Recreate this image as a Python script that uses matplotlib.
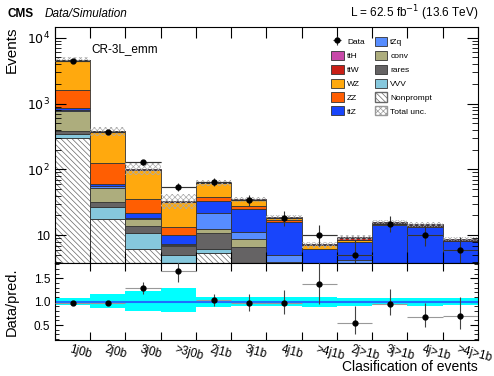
import numpy as np
import matplotlib.pyplot as plt
from matplotlib.patches import Patch
from matplotlib.ticker import FixedLocator, MultipleLocator, NullFormatter

plt.rcParams['font.family'] = ['Liberation Sans', 'DejaVu Sans']
plt.rcParams['hatch.linewidth'] = 0.5

# ------------------------------------------------------------
# Data
# ------------------------------------------------------------

bin_labels = ["1j0b", "2j0b", "3j0b", ">3j0b", "2j1b", "3j1b", "4j1b",
              ">4j1b", "2j>1b", "3j>1b", "4j>1b", ">4j>1b"]

# stacked backgrounds, bottom to top
nonprompt = [295, 17.5, 6.2, 1.5, 5.3, 1.0, 0.5, 0.5, 1.0, 0.5, 0.5, 0.4]
vvv       = [44, 9.0, 4.5, 3.5, 1.0, 0.5, 0.3, 0.2, 0.3, 0.2, 0.2, 0.1]
rares     = [50, 5.1, 3.0, 1.8, 4.4, 5.1, 1.0, 0.5, 1.0, 0.8, 0.8, 0.8]
conv      = [370, 21.4, 4.0, 0.4, 1.6, 2.1, 2.2, 0.3, 0.5, 0.5, 0.5, 0.3]
tzq       = [40, 3.0, 0.5, 0.3, 9.2, 2.7, 1.0, 0.3, 1.4, 1.0, 1.0, 0.9]
ttz       = [70, 5.0, 3.8, 2.5, 11.2, 13.4, 11.0, 4.3, 3.6, 11.3, 10.6, 5.6]
zz        = [760, 62, 14, 3.2, 5.0, 2.8, 0.9, 0.2, 0.2, 0.1, 0.1, 0.05]
wz        = [2970, 252, 63, 19, 24, 6.4, 1.3, 0.8, 0.5, 0.3, 0.3, 0.15]
ttw       = [5, 1.5, 0.7, 0.4, 1.0, 0.8, 0.4, 0.15, 0.6, 0.7, 0.5, 0.25]
tth       = [2, 0.5, 0.3, 0.1, 0.3, 0.2, 0.1, 0.05, 0.2, 0.3, 0.2, 0.15]

data = [4460, 366, 129, 54, 65, 34, 18, 10, 5, 15, 10, 6]

# relative total uncertainty (up / down)
unc_up = [0.086, 0.157, 0.236, 0.30, 0.10, 0.10, 0.10, 0.10, 0.086, 0.07, 0.086, 0.086]
unc_dn = [0.07, 0.14, 0.19, 0.22, 0.107, 0.093, 0.093, 0.114, 0.086, 0.07, 0.086, 0.07]

# ------------------------------------------------------------
# Styles
# ------------------------------------------------------------

layers = [
    ("Nonprompt", nonprompt, "white"),
    ("VVV", vvv, "#86c8dd"),
    ("rares", rares, "#656364"),
    ("conv", conv, "#adad7d"),
    ("tZq", tzq, "#578dff"),
    ("ttZ", ttz, "#1845fb"),
    ("ZZ", zz, "#ff5e02"),
    ("WZ", wz, "#ffa90e"),
    ("ttW", ttw, "#c91f16"),
    ("ttH", tth, "#c849a9"),
]

nb = len(bin_labels)
x = np.arange(nb)
edges = np.arange(nb + 1)

fig = plt.figure(figsize=(4.94, 3.76), dpi=100)
ax = fig.add_axes([0.1113, 0.3005, 0.8563, 0.6277])
rax = fig.add_axes([0.1113, 0.0957, 0.8563, 0.2048], sharex=ax)

# ------------------------------------------------------------
# Main panel
# ------------------------------------------------------------

bottom = np.zeros(nb)
handles = {}
for name, vals, col in layers:
    vals = np.array(vals, dtype=float)
    if name == "Nonprompt":
        ax.bar(edges[:-1], vals, width=1, bottom=bottom, align="edge",
               facecolor="white", edgecolor="#666666", hatch="\\\\\\\\\\\\", linewidth=0)
        ax.bar(edges[:-1], vals, width=1, bottom=bottom, align="edge",
               facecolor="none", edgecolor="#333333", linewidth=0.6)
        handles[name] = Patch(facecolor="white", edgecolor="#666666", hatch="\\\\\\\\\\\\", label=name)
    else:
        ax.bar(edges[:-1], vals, width=1, bottom=bottom, align="edge",
               color=col, edgecolor="#333333", linewidth=0.6)
        handles[name] = Patch(facecolor=col, edgecolor="#333333", linewidth=0.6, label=name)
    bottom = bottom + vals

total = bottom
up = np.array(unc_up)
dn = np.array(unc_dn)

ax.bar(edges[:-1], total * (up + dn), width=1, bottom=total * (1 - dn), align="edge",
       facecolor="none", edgecolor="#aaaaaa", hatch="xxxxxx", linewidth=0)
handles["Total unc."] = Patch(facecolor="white", edgecolor="#999999", hatch="xxxxxx", label="Total unc.")

d = np.array(data, dtype=float)
lo = d * (1 - 1 / (9 * d) - 1 / (3 * np.sqrt(d))) ** 3
hi = (d + 1) * (1 - 1 / (9 * (d + 1)) + 1 / (3 * np.sqrt(d + 1))) ** 3
err_lo = d - lo
err_hi = hi - d

ax.hlines(d, edges[:-1], edges[1:], color="#888888", linewidth=0.8, zorder=4)
dat = ax.errorbar(x + 0.5, d, yerr=[err_lo, err_hi], xerr=0.5, fmt="o", color="black",
                  ecolor="#333333", markersize=3.5, elinewidth=0.8, capsize=0, zorder=5,
                  label="Data")

ax.set_yscale("log")
ax.set_ylim(3.8, 1.45e4)
ax.set_xlim(0, nb)
ax.yaxis.set_major_locator(FixedLocator([10, 100, 1000, 10000]))
ax.set_yticklabels(["10", r"$10^2$", r"$10^3$", r"$10^4$"])
ax.yaxis.set_minor_locator(FixedLocator([m * 10 ** e for e in range(0, 5) for m in range(2, 10)]))
ax.yaxis.set_minor_formatter(NullFormatter())
ax.set_ylabel("Events", fontsize=11, loc="top")
ax.tick_params(which="both", direction="in", top=True, right=True, labelsize=9)
ax.tick_params(which="major", length=8)
ax.tick_params(which="minor", length=4)
ax.tick_params(axis="x", labelbottom=False)

ax.text(0.085, 0.93, "CR-3L_emm", transform=ax.transAxes, fontsize=8.5, va="top")

order = ["Data", "ttH", "ttW", "WZ", "ZZ", "ttZ", "tZq", "conv", "rares", "VVV",
         "Nonprompt", "Total unc."]
hl = [dat if n == "Data" else handles[n] for n in order]
fig.legend(hl, order, loc="upper left", bbox_to_anchor=(0.655, 0.922), ncol=2,
           fontsize=6, frameon=False, handlelength=1.5, handleheight=1.3,
           columnspacing=1.2, labelspacing=0.55, handletextpad=0.4)

fig.text(0.016, 0.955, "CMS", fontsize=8.5, fontweight="bold")
fig.text(0.09, 0.955, "Data/Simulation", fontsize=8.5, style="italic")
fig.text(0.968, 0.955, r"L = 62.5 fb$^{-1}$ (13.6 TeV)", fontsize=8.5, ha="right")

# ------------------------------------------------------------
# Ratio panel
# ------------------------------------------------------------

rax.bar(edges[:-1], up + dn, width=1, bottom=1 - dn, align="edge", color="#00ffff", linewidth=0)
rax.axhline(1.0, color="#1f6fff", linewidth=1.5)

ratio = d / total
rax.hlines(ratio, edges[:-1], edges[1:], color="#999999", linewidth=0.8, zorder=4)
rax.errorbar(x + 0.5, ratio, yerr=[err_lo / total, err_hi / total], fmt="o", color="black",
             ecolor="#444444", markersize=3.5, elinewidth=0.8, capsize=0, zorder=5)

rax.set_ylim(0.18, 1.83)
rax.yaxis.set_major_locator(FixedLocator([0.5, 1.0, 1.5]))
rax.set_yticklabels(["0.5", "1.0", "1.5"])
rax.yaxis.set_minor_locator(MultipleLocator(0.1))
rax.set_xticks(edges)
rax.set_xticklabels([])
rax.tick_params(which="both", direction="in", top=True, right=True, labelsize=8.5)
rax.tick_params(which="major", length=6)
rax.tick_params(which="minor", length=3)
rax.set_ylabel("Data/pred.", fontsize=10.5)
rax.yaxis.set_label_coords(-0.085, 0.5)
ax.yaxis.set_label_coords(-0.085, 1.0)

for i, lab in enumerate(bin_labels):
    rax.text(i + 0.45, -0.04, lab, transform=rax.get_xaxis_transform(), fontsize=8.5,
             rotation=-15, rotation_mode="anchor", ha="left", va="top")

rax.set_xlabel("Clasification of events", fontsize=10, loc="right", labelpad=11)

fig.savefig("out.png", dpi=100)
